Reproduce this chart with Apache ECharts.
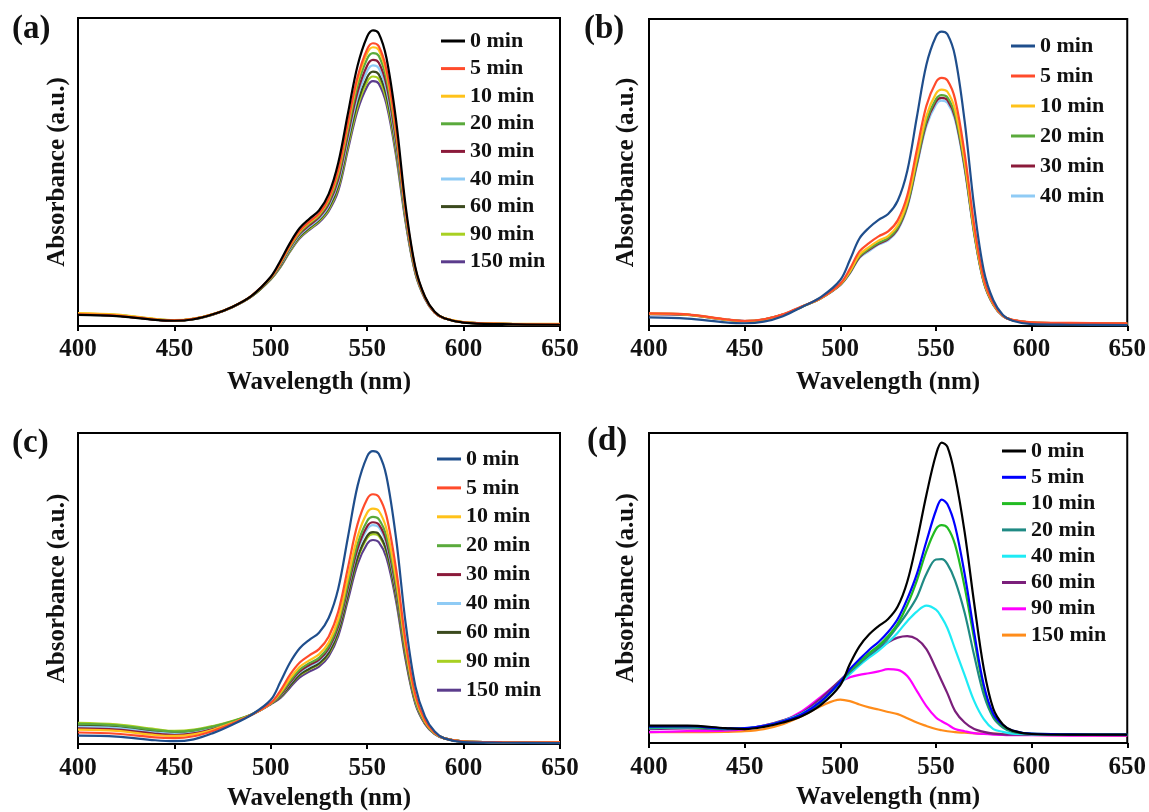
<!DOCTYPE html>
<html><head><meta charset="utf-8">
<script src="https://cdn.jsdelivr.net/npm/echarts@6/dist/echarts.min.js"></script>
<style>html,body{margin:0;padding:0;background:#fff}#c{width:1149px;height:812px}</style>
</head><body><div id="c"></div>
<script>
// ---------- DATA ----------
const WL = [400,420,440,450,460,470,480,490,500,505,510,515,520,525,530,535,540,545,550,553,556,560,565,570,575,580,585,590,600,620,650];
const xTicks = [400,450,500,550,600,650];

const timesA = ['0 min','5 min','10 min','20 min','30 min','40 min','60 min','90 min','150 min'];
const timesB = ['0 min','5 min','10 min','20 min','30 min','40 min'];
const timesC = ['0 min','5 min','10 min','20 min','30 min','40 min','60 min','90 min','150 min'];
const timesD = ['0 min','5 min','10 min','20 min','40 min','60 min','90 min','150 min'];

const a0  = [.036,.032,.020,.017,.022,.038,.062,.098,.160,.212,.270,.318,.348,.375,.428,.530,.690,.845,.940,.960,.950,.870,.667,.387,.190,.095,.046,.025,.011,.006,.004];
const a5  = [.038,.034,.021,.018,.023,.038,.062,.098,.158,.207,.263,.310,.339,.365,.414,.507,.660,.808,.899,.918,.908,.832,.638,.373,.185,.093,.045,.025,.012,.007,.005];
const a10 = [.042,.037,.023,.019,.024,.039,.062,.098,.157,.205,.261,.307,.336,.362,.410,.500,.651,.797,.886,.905,.896,.820,.629,.369,.184,.093,.045,.026,.013,.008,.007];
const a20 = [.039,.035,.022,.018,.023,.038,.062,.097,.156,.203,.257,.303,.332,.358,.403,.489,.637,.780,.868,.886,.877,.803,.616,.363,.181,.092,.045,.025,.012,.007,.005];
const a30 = [.038,.034,.021,.018,.023,.038,.062,.097,.155,.200,.254,.299,.327,.353,.396,.477,.621,.760,.846,.864,.855,.783,.600,.356,.179,.091,.044,.025,.012,.007,.005];
const a40 = [.039,.035,.022,.018,.023,.038,.061,.097,.154,.198,.250,.295,.323,.348,.390,.467,.608,.744,.828,.846,.837,.766,.588,.350,.177,.090,.044,.025,.012,.007,.005];
const a60 = [.037,.033,.021,.017,.022,.037,.061,.096,.153,.195,.247,.291,.319,.344,.383,.456,.594,.727,.808,.826,.817,.748,.574,.344,.174,.090,.044,.025,.012,.007,.005];
const a90 = [.040,.036,.022,.018,.023,.038,.061,.096,.152,.193,.244,.288,.315,.340,.378,.448,.583,.713,.793,.810,.802,.734,.563,.339,.172,.089,.044,.025,.012,.007,.006];
const a150= [.038,.034,.021,.018,.023,.038,.061,.096,.152,.191,.242,.285,.312,.336,.373,.439,.572,.700,.778,.795,.787,.720,.552,.334,.170,.088,.043,.025,.012,.007,.005];

const b0  = [.028,.024,.012,.009,.014,.032,.062,.095,.150,.215,.285,.320,.346,.365,.408,.505,.680,.851,.943,.959,.950,.878,.667,.387,.181,.084,.036,.017,.006,.004,.003];
const b5  = [.041,.038,.022,.017,.022,.038,.064,.092,.138,.186,.243,.270,.292,.308,.344,.425,.573,.717,.794,.808,.800,.739,.562,.328,.155,.074,.034,.020,.012,.010,.009];
const b10 = [.040,.037,.021,.016,.021,.037,.063,.091,.136,.178,.232,.257,.278,.293,.328,.406,.546,.684,.757,.770,.763,.705,.536,.312,.148,.071,.033,.019,.011,.009,.008];
const b20 = [.040,.037,.021,.016,.021,.037,.063,.091,.135,.175,.227,.251,.271,.286,.320,.396,.533,.668,.739,.752,.745,.688,.523,.305,.145,.070,.033,.019,.011,.009,.008];
const b30 = [.039,.036,.021,.016,.021,.037,.063,.091,.134,.173,.224,.248,.268,.283,.316,.391,.527,.660,.731,.743,.736,.680,.517,.302,.143,.069,.032,.019,.011,.009,.008];
const b40 = [.039,.036,.021,.016,.021,.037,.063,.090,.133,.171,.221,.244,.265,.279,.312,.386,.520,.651,.721,.734,.727,.672,.510,.298,.141,.068,.032,.019,.011,.009,.008];

const c0  = [.027,.024,.012,.009,.015,.035,.062,.094,.142,.200,.262,.308,.335,.358,.405,.500,.665,.830,.925,.942,.933,.860,.660,.385,.185,.088,.040,.018,.006,.004,.003];
const c5  = [.037,.033,.021,.019,.025,.042,.066,.094,.132,.172,.223,.262,.285,.305,.345,.426,.567,.707,.788,.803,.795,.733,.562,.328,.158,.076,.036,.018,.008,.006,.005];
const c10 = [.046,.042,.029,.026,.031,.046,.068,.094,.131,.165,.211,.248,.269,.288,.326,.402,.535,.667,.744,.757,.750,.691,.531,.310,.149,.072,.035,.018,.008,.006,.005];
const c20 = [.065,.060,.045,.040,.044,.056,.073,.095,.130,.160,.203,.239,.260,.277,.314,.388,.515,.643,.717,.730,.723,.667,.512,.298,.143,.070,.034,.018,.008,.006,.005];
const c30 = [.050,.046,.033,.029,.034,.048,.069,.094,.130,.157,.198,.233,.254,.271,.307,.379,.503,.628,.700,.713,.706,.651,.500,.291,.140,.068,.034,.018,.008,.006,.005];
const c40 = [.055,.051,.037,.033,.037,.051,.070,.094,.130,.155,.196,.230,.250,.267,.303,.374,.497,.620,.691,.704,.697,.642,.493,.288,.138,.068,.034,.018,.008,.006,.005];
const c60 = [.060,.055,.041,.036,.040,.053,.071,.094,.129,.152,.189,.223,.242,.259,.293,.362,.481,.600,.669,.681,.675,.622,.477,.278,.134,.066,.033,.018,.008,.006,.005];
const c90 = [.068,.063,.048,.042,.046,.058,.074,.095,.130,.151,.188,.221,.240,.257,.290,.359,.477,.595,.663,.675,.669,.617,.473,.276,.133,.066,.033,.018,.008,.006,.005];
const c150= [.058,.053,.039,.035,.039,.052,.071,.094,.128,.148,.182,.214,.233,.249,.282,.348,.463,.578,.644,.656,.649,.599,.459,.268,.129,.064,.032,.018,.008,.006,.005];

const d0  = [.056,.056,.048,.045,.052,.066,.087,.124,.187,.255,.312,.350,.377,.400,.440,.520,.650,.800,.930,.969,.955,.860,.680,.450,.240,.110,.060,.040,.029,.027,.027];
const d5  = [.053,.054,.047,.048,.055,.070,.093,.135,.198,.238,.270,.300,.326,.358,.400,.465,.545,.650,.750,.785,.770,.700,.545,.356,.187,.093,.058,.040,.030,.028,.027];
const d10 = [.050,.052,.046,.047,.054,.069,.092,.133,.198,.233,.262,.290,.314,.345,.385,.445,.524,.619,.690,.703,.695,.640,.503,.335,.177,.087,.055,.038,.030,.028,.027];
const d20 = [.050,.051,.046,.047,.054,.069,.092,.132,.198,.229,.256,.283,.308,.337,.377,.420,.470,.545,.592,.593,.577,.524,.420,.282,.156,.082,.050,.036,.029,.027,.027];
const d40 = [.048,.050,.045,.047,.055,.071,.095,.135,.193,.222,.250,.275,.298,.325,.356,.393,.424,.443,.430,.405,.370,.303,.219,.135,.077,.045,.036,.030,.028,.027,.026];
const d60 = [.045,.047,.044,.046,.056,.073,.098,.145,.203,.230,.256,.280,.303,.325,.340,.345,.335,.303,.240,.200,.160,.103,.066,.045,.036,.030,.028,.027,.026,.026,.025];
const d90 = [.035,.038,.040,.045,.056,.072,.103,.150,.198,.212,.220,.225,.231,.238,.236,.216,.168,.119,.082,.070,.060,.045,.038,.032,.029,.027,.026,.025,.025,.024,.024];
const d150= [.035,.035,.036,.038,.045,.061,.087,.119,.140,.135,.124,.115,.108,.100,.093,.080,.066,.055,.045,.041,.038,.035,.033,.031,.030,.030,.029,.028,.026,.025,.024];

// ---------- STYLE / LAYOUT ----------
const colorsA = ['#000000','#FF4B2B','#FFC21A','#5AAA3C','#8B1A3A','#8FCBF5','#3B4A1E','#A8D022','#5B3C8C'];
const colorsB = ['#1F4E8C','#FF4B2B','#FFC21A','#5AAA3C','#8B1A3A','#8FCBF5'];
const colorsC = ['#1F4E8C','#FF4B2B','#FFC21A','#5AAA3C','#8B1A3A','#8FCBF5','#3B4A1E','#A8D022','#5B3C8C'];
const colorsD = ['#000000','#0000FF','#22BB22','#1F8A84','#1EEBF5','#7B1F7B','#FF00FF','#FF8C1A'];

const FONT = "'Liberation Serif', 'DejaVu Serif', serif";
const panels = [
  {key:'a', label:'(a)', names:timesA, colors:colorsA, data:[a0,a5,a10,a20,a30,a40,a60,a90,a150],
   grid:{left:78, top:18, width:482, height:308}, legend:{left:441, top:30, gap:5.6}, title:{left:7, top:8}, yGap:8, xGap:44, lblMargin:11},
  {key:'b', label:'(b)', names:timesB, colors:colorsB, data:[b0,b5,b10,b20,b30,b40],
   grid:{left:649, top:19, width:481, height:307}, legend:{left:1011, top:35, gap:8}, title:{left:579, top:8}, yGap:10, xGap:44, lblMargin:11},
  {key:'c', label:'(c)', names:timesC, colors:colorsC, data:[c0,c5,c10,c20,c30,c40,c60,c90,c150],
   grid:{left:78, top:433, width:482, height:312}, legend:{left:437, top:448, gap:6.9}, title:{left:7, top:422}, yGap:8, xGap:42, lblMargin:12},
  {key:'d', label:'(d)', names:timesD, colors:colorsD, data:[d0,d5,d10,d20,d40,d60,d90,d150],
   grid:{left:649, top:433, width:479, height:310}, legend:{left:1002, top:440, gap:4.3}, title:{left:582, top:420}, yGap:10, xGap:42, lblMargin:12}
];

const option = {
  backgroundColor:'#fff', animation:false,
  grid:[], xAxis:[], yAxis:[], series:[], legend:[], title:[]
};
panels.forEach((p, gi) => {
  option.grid.push(Object.assign({show:true, borderColor:'#000', borderWidth:2, backgroundColor:'#fff'}, p.grid));
  option.xAxis.push({
    type:'value', gridIndex:gi, min:xTicks[0], max:xTicks[xTicks.length-1], interval:xTicks[1]-xTicks[0],
    name:'Wavelength (nm)', nameLocation:'middle', nameGap:p.xGap,
    nameTextStyle:{fontFamily:FONT, fontWeight:'bold', fontSize:25, color:'#111'},
    axisLine:{show:true, lineStyle:{color:'#000', width:2}},
    axisTick:{show:true, inside:false, length:5, lineStyle:{color:'#000', width:2}},
    axisLabel:{margin:p.lblMargin, fontFamily:FONT, fontWeight:'bold', fontSize:25, color:'#111'},
    splitLine:{show:false}
  });
  option.yAxis.push({
    type:'value', gridIndex:gi, min:0, max:1,
    name:'Absorbance (a.u.)', nameLocation:'middle', nameGap:p.yGap,
    nameTextStyle:{fontFamily:FONT, fontWeight:'bold', fontSize:25, color:'#111'},
    axisLine:{show:false}, axisTick:{show:false}, axisLabel:{show:false}, splitLine:{show:false}
  });
  option.title.push({text:p.label, left:p.title.left, top:p.title.top,
    textStyle:{fontFamily:FONT, fontWeight:'bold', fontSize:33, color:'#111'}});
  const ids = p.names.map(n => p.key + ':' + n);
  option.legend.push({
    orient:'vertical', left:p.legend.left, top:p.legend.top, itemGap:p.legend.gap,
    itemWidth:24, itemHeight:3, icon:'rect', padding:0,
    data: ids,
    formatter: n => n.slice(2),
    textStyle:{fontFamily:FONT, fontWeight:'bold', fontSize:22, lineHeight:22, color:'#111'}
  });
  for (let i = p.names.length - 1; i >= 0; i--) {
    option.series.push({
      type:'line', name:ids[i], xAxisIndex:gi, yAxisIndex:gi,
      data: WL.map((w, k) => [w, p.data[i][k]]),
      smooth:0.35, showSymbol:false, symbol:'none',
      lineStyle:{color:p.colors[i], width:2.2}, itemStyle:{color:p.colors[i]},
      emphasis:{disabled:true}
    });
  }
});
const chart = echarts.init(document.getElementById('c'), null, {renderer:'canvas'});
chart.setOption(option);
</script>
</body></html>
